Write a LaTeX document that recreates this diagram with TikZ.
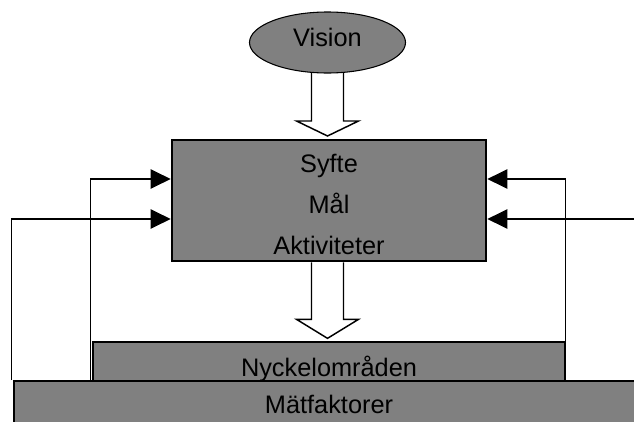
\documentclass[tikz,border=0pt]{standalone}
\usepackage{fontspec}
\setmainfont{Liberation Sans}
\usetikzlibrary{arrows.meta,calc,shapes.geometric,backgrounds}
\definecolor{boxgray}{HTML}{808080}
\begin{document}
\begin{tikzpicture}[x=0.75pt,y=-0.75pt,
  txt/.style={font=\fontsize{19}{30.5}\selectfont},
  grayshape/.style={draw, fill=boxgray, inner sep=0pt, txt},
  mainbox/.style={grayshape, rectangle, line width=2pt, minimum width=235.5pt, minimum height=90.75pt},
  visionshape/.style={grayshape, ellipse, line width=0.8pt, minimum width=117pt, minimum height=45.75pt},
  basebox/.style={grayshape, rectangle, line width=2pt},
  blockarrow/.style={draw, fill=white, line width=1.1pt, line join=miter},
  fb/.style={draw, line width=0.8pt, -{Triangle[length=15pt,width=14.5pt]}}
]
\useasboundingbox (0,0) rectangle (634,421);
\clip (0,0) rectangle (634,421);

% base boxes
\node[basebox, minimum width=354pt, minimum height=39.75pt] (nyck) at (329,368.5) {Nyckelområden};
\node[basebox, minimum width=472.5pt, minimum height=35.25pt] (mat) at (329,404.5) {Mätfaktorer};

% main box
\node[mainbox] (main) at (329,200.5) {};
\node[txt, inner sep=0pt, align=center] (maintext) at ($(main.center)+(0,4)$) {Syfte\\Mål\\Aktiviteter};

% vision
\node[visionshape] (vision) at (327.5,42.5) {};
\node[txt, inner sep=0pt] (visiontext) at ($(vision.center)+(0,-5)$) {Vision};

% block arrows
\begin{scope}[on background layer]
\draw[blockarrow] ($(vision.center)+(-16,0)$) -- ($(vision.center)+(-16,78.5)$) -- ++(-15,0)
  -- ($(vision.center)+(0,93.5)$) -- ($(vision.center)+(31,78.5)$) -- ++(-15,0)
  -- ($(vision.center)+(16,0)$);
\end{scope}
\coordinate (bstart) at (vision.south |- main.south);
\draw[blockarrow] ($(bstart)+(-16,0)$) -- ($(bstart)+(-16,57)$) -- ++(-15,0)
  -- ($(bstart)+(0,76)$) -- ($(bstart)+(31,57)$) -- ++(-15,0)
  -- ($(bstart)+(16,0)$);

% feedback connectors
\draw[fb] ($(nyck.west |- mat.north)+(-1.5,0)$) |- ($(main.west)+(0,-21.5)$);
\draw[fb] ($(mat.north west)+(-1.5,0)$) |- ($(main.west)+(0,18.5)$);
\draw[fb] ($(nyck.north east)+(-1,0)$) |- ($(main.east)+(0,-21.5)$);
\coordinate (redge) at (640,219);
\draw[fb] (redge) -- (main.east |- redge);
\end{tikzpicture}
\end{document}
